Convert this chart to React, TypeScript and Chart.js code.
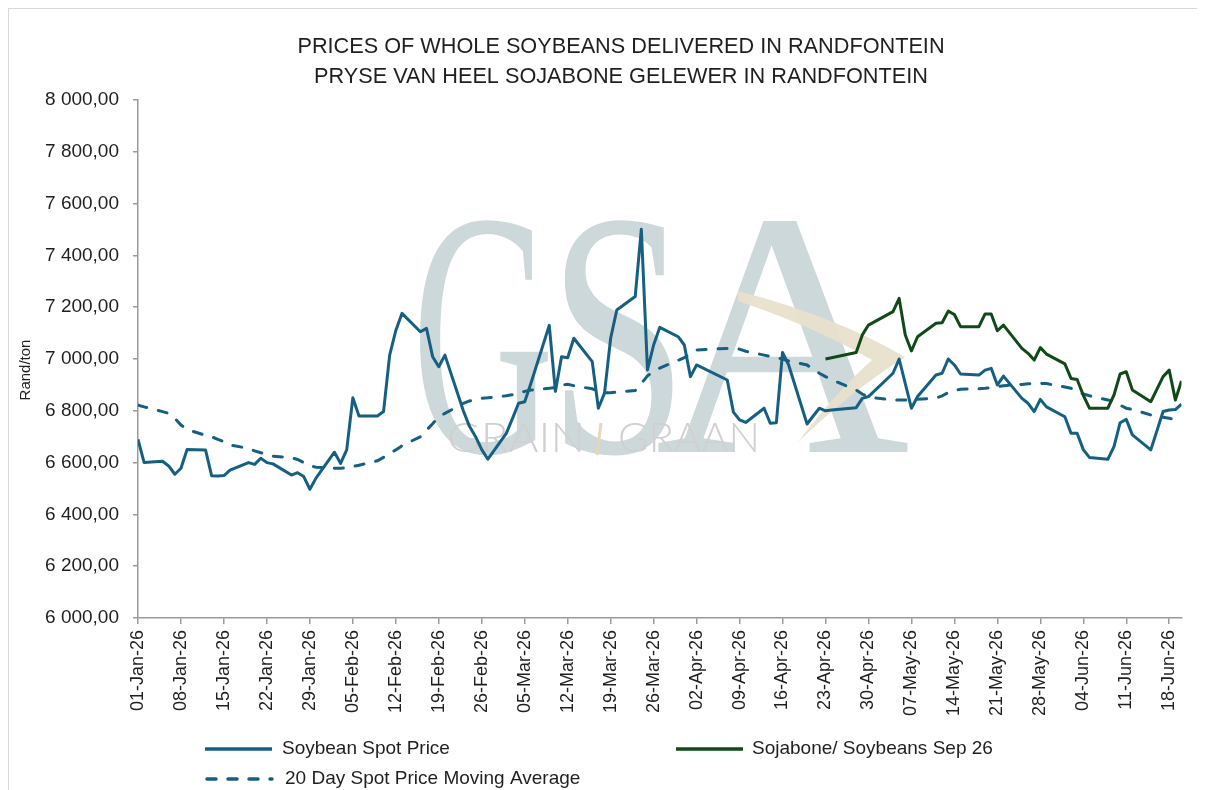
import React, { useEffect, useRef } from "react";
import { Chart, registerables } from "chart.js";

Chart.register(...registerables);

// ---------- DATA ----------
const dates = [
  "2026-01-01","2026-01-02","2026-01-05","2026-01-06","2026-01-07","2026-01-08","2026-01-09","2026-01-12","2026-01-13","2026-01-14","2026-01-15","2026-01-16","2026-01-19","2026-01-20","2026-01-21","2026-01-22","2026-01-23","2026-01-26","2026-01-27","2026-01-28","2026-01-29","2026-01-30",
  "2026-02-02","2026-02-03","2026-02-04","2026-02-05","2026-02-06","2026-02-09","2026-02-10","2026-02-11","2026-02-12","2026-02-13","2026-02-16","2026-02-17","2026-02-18","2026-02-19","2026-02-20","2026-02-23","2026-02-24","2026-02-25","2026-02-26","2026-02-27",
  "2026-03-02","2026-03-03","2026-03-04","2026-03-05","2026-03-06","2026-03-09","2026-03-10","2026-03-11","2026-03-12","2026-03-13","2026-03-16","2026-03-17","2026-03-18","2026-03-19","2026-03-20","2026-03-23","2026-03-24","2026-03-25","2026-03-26","2026-03-27","2026-03-30","2026-03-31",
  "2026-04-01","2026-04-02","2026-04-07","2026-04-08","2026-04-09","2026-04-10","2026-04-13","2026-04-14","2026-04-15","2026-04-16","2026-04-17","2026-04-20","2026-04-21","2026-04-22","2026-04-23","2026-04-24","2026-04-28","2026-04-29","2026-04-30",
  "2026-05-04","2026-05-05","2026-05-06","2026-05-07","2026-05-08","2026-05-11","2026-05-12","2026-05-13","2026-05-14","2026-05-15","2026-05-18","2026-05-19","2026-05-20","2026-05-21","2026-05-22","2026-05-25","2026-05-26","2026-05-27","2026-05-28","2026-05-29",
  "2026-06-01","2026-06-02","2026-06-03","2026-06-04","2026-06-05","2026-06-08","2026-06-09","2026-06-10","2026-06-11","2026-06-12","2026-06-15","2026-06-17","2026-06-18","2026-06-19","2026-06-20",
];

const spotPrice = [
  6690,6600,6605,6587,6555,6578,6651,6649,6549,6548,6550,6571,6600,6593,6617,6600,6595,6552,6561,6546,6497,6540,
  6640,6597,6649,6850,6780,6780,6797,7015,7110,7176,7105,7118,7009,6970,7015,6800,6740,6700,6650,6613,
  6713,6770,6829,6835,6905,7130,6875,7009,7005,7080,6990,6810,6868,7080,7189,7241,7501,6958,7054,7122,7086,7054,
  6932,6977,6919,6795,6765,6755,6810,6752,6754,7025,6977,6749,6780,6810,6800,6803,6812,6848,6855,
  6945,7000,6905,6810,6855,6938,6945,7000,6977,6942,6938,6957,6964,6900,6934,6848,6829,6797,6844,6815,
  6777,6713,6713,6650,6620,6613,6662,6754,6767,6707,6649,6797,6803,6805,6826,
];

const movingAverage = [
  6822,6815,6797,6790,6771,6745,6728,6705,6700,6690,6680,6668,6655,6645,6638,6632,6625,6619,6612,6600,6588,6582,
  6578,6578,6580,6585,6590,6607,6620,6635,6649,6665,6700,6725,6750,6777,6790,6829,6838,6843,6848,6850,
  6858,6862,6868,6875,6880,6887,6890,6900,6902,6897,6885,6875,6870,6870,6872,6878,6905,6935,6951,6965,6995,7005,
  7020,7035,7041,7040,7038,7030,7015,7010,7005,7000,6992,6977,6960,6945,6932,6920,6880,6865,6852,
  6842,6842,6842,6843,6845,6849,6858,6870,6878,6883,6885,6887,6890,6893,6897,6902,6904,6906,6906,6905,
  6892,6887,6878,6865,6858,6842,6835,6822,6810,6805,6784,6775,6771,6765,6758,
];

const sep26Start = "2026-04-23";
const sep26 = [
  7000,7005,7025,7093,7131,
  7183,7234,7093,7031,7086,7138,7140,7185,7172,7125,7125,7174,7174,7109,7131,7041,7022,6996,7044,7019,
  6981,6925,6921,6860,6810,6810,6861,6942,6951,6880,6835,6932,6957,6842,6915,
];

const xTickLabels = [
  "01-Jan-26","08-Jan-26","15-Jan-26","22-Jan-26","29-Jan-26","05-Feb-26","12-Feb-26","19-Feb-26","26-Feb-26",
  "05-Mar-26","12-Mar-26","19-Mar-26","26-Mar-26","02-Apr-26","09-Apr-26","16-Apr-26","23-Apr-26","30-Apr-26",
  "07-May-26","14-May-26","21-May-26","28-May-26","04-Jun-26","11-Jun-26","18-Jun-26",
];

const seriesNames = ["Soybean Spot Price", "20 Day Spot Price Moving Average", "Sojabone/ Soybeans Sep 26"];
const titleLines = ["PRICES OF WHOLE SOYBEANS DELIVERED IN RANDFONTEIN", "PRYSE VAN HEEL SOJABONE GELEWER IN RANDFONTEIN"];
const yAxisTitle = "Rand/ton";

// ---------- HELPERS ----------
const START = Date.UTC(2026, 0, 1);
const MONTHS: Record<string, number> = { Jan: 0, Feb: 1, Mar: 2, Apr: 3, May: 4, Jun: 5, Jul: 6, Aug: 7, Sep: 8, Oct: 9, Nov: 10, Dec: 11 };
function dayIndex(iso: string) {
  const [y, m, d] = iso.split("-").map(Number);
  return (Date.UTC(y, m - 1, d) - START) / 86400000;
}
function labelDay(lbl: string) {
  const [dd, mon, yy] = lbl.split("-");
  return (Date.UTC(2000 + Number(yy), MONTHS[mon], Number(dd)) - START) / 86400000;
}
function fmtY(v: number) {
  const [i, f] = v.toFixed(2).split(".");
  return i.replace(/\B(?=(\d{3})+(?!\d))/g, " ") + "," + f;
}

const SPOT = "#156082";
const GREEN = "#0f4a17";
const TXT = "#1f1f1f";
const AXIS = "#9a9a9a";
const FONT = '"Liberation Sans", Arial, sans-serif';
const OFF = 9; // page -> canvas offset

const decor = {
  id: "decor",
  beforeDatasetsDraw(chart: any) {
    const ctx: CanvasRenderingContext2D = chart.ctx;
    ctx.save();
    ctx.translate(-OFF, -OFF);
    // GSA letters
    ctx.fillStyle = "#cdd8db";
    ctx.textBaseline = "alphabetic";
    ctx.textAlign = "left";
    ctx.font = '350px "Liberation Serif", "DejaVu Serif", serif';
    const letter = (ch: string, x: number, w: number) => {
      const m = ctx.measureText(ch).width;
      ctx.save();
      ctx.translate(x, 452);
      ctx.scale(w / m, 1);
      ctx.fillText(ch, 0, 0);
      ctx.restore();
    };
    letter("A", 655, 255);
    letter("G", 412, 142);
    letter("S", 548, 140);
    // swoosh
    ctx.fillStyle = "rgba(232,224,204,0.95)";
    ctx.beginPath();
    ctx.moveTo(738, 291);
    ctx.quadraticCurveTo(835, 316, 905, 357);
    ctx.quadraticCurveTo(850, 392, 798, 442);
    ctx.quadraticCurveTo(836, 392, 872, 360);
    ctx.quadraticCurveTo(815, 327, 738, 301);
    ctx.closePath();
    ctx.fill();
    // GRAIN / GRAAN
    ctx.fillStyle = "#d0d0d0";
    ctx.font = '300 42px Lato, "Liberation Sans", sans-serif';
    const word = (t: string, x: number, w: number) => {
      const m = ctx.measureText(t).width;
      ctx.save();
      ctx.translate(x, 452);
      ctx.scale(w / m, 1);
      ctx.fillText(t, 0, 0);
      ctx.restore();
    };
    word("GRAIN", 447, 138);
    word("GRAAN", 618, 142);
    ctx.strokeStyle = "#e4d8bb";
    ctx.lineWidth = 3;
    ctx.beginPath();
    ctx.moveTo(601, 423);
    ctx.lineTo(597, 455);
    ctx.stroke();
    ctx.restore();
  },
  afterDraw(chart: any) {
    const ctx: CanvasRenderingContext2D = chart.ctx;
    ctx.save();
    ctx.translate(-OFF, -OFF);
    // title
    ctx.fillStyle = TXT;
    ctx.textAlign = "center";
    ctx.textBaseline = "alphabetic";
    ctx.font = `21.7px ${FONT}`;
    ctx.fillText(titleLines[0], 621, 53);
    ctx.fillText(titleLines[1], 621, 83);
    // y title
    ctx.save();
    ctx.translate(30, 370);
    ctx.rotate(-Math.PI / 2);
    ctx.font = `15px ${FONT}`;
    ctx.textBaseline = "alphabetic";
    ctx.fillText(yAxisTitle, 0, 0);
    ctx.restore();
    // legend
    ctx.textAlign = "left";
    ctx.textBaseline = "middle";
    ctx.font = `19px ${FONT}`;
    const sample = (x1: number, x2: number, y: number, color: string, dash: number[]) => {
      ctx.save();
      ctx.strokeStyle = color;
      ctx.lineWidth = 3.5;
      ctx.lineCap = dash.length ? "round" : "butt";
      ctx.setLineDash(dash);
      ctx.beginPath();
      ctx.moveTo(x1, y);
      ctx.lineTo(x2, y);
      ctx.stroke();
      ctx.restore();
    };
    sample(205, 272, 749, SPOT, []);
    ctx.fillText(seriesNames[0], 282, 749);
    sample(676, 743, 749, GREEN, []);
    ctx.fillText(seriesNames[2], 752, 749);
    sample(207, 272, 779, SPOT, [9, 12]);
    ctx.fillText(seriesNames[1], 285, 779);
    ctx.restore();
  },
};

export default function App() {
  const ref = useRef<HTMLCanvasElement>(null);
  useEffect(() => {
    document.documentElement.style.overflow = "hidden";
    document.body.style.overflow = "hidden";
    const sepOffset = dates.indexOf(sep26Start);
    const spotData = dates.map((d, i) => ({ x: dayIndex(d), y: spotPrice[i] }));
    const maData = dates.map((d, i) => ({ x: dayIndex(d), y: movingAverage[i] }));
    const sepData = sep26.map((v, i) => ({ x: dayIndex(dates[sepOffset + i]), y: v }));
    const tickValues = xTickLabels.map(labelDay);
    const chart = new Chart(ref.current as HTMLCanvasElement, {
      type: "line",
      data: {
        datasets: [
          { label: seriesNames[2], data: sepData, borderColor: GREEN, borderWidth: 3, pointRadius: 0, tension: 0, borderJoinStyle: "round" },
          { label: seriesNames[0], data: spotData, borderColor: SPOT, borderWidth: 3, pointRadius: 0, tension: 0, borderJoinStyle: "round" },
          { label: seriesNames[1], data: maData, borderColor: SPOT, borderWidth: 3, pointRadius: 0, tension: 0, borderDash: [9, 12], borderCapStyle: "round" },
        ],
      } as any,
      options: {
        responsive: false,
        animation: false,
        events: [],
        layout: { autoPadding: false, padding: { top: 91, left: 0, right: 15, bottom: 89 } } as any,
        plugins: { legend: { display: false }, title: { display: false }, tooltip: { enabled: false } },
        font: { family: FONT },
        scales: {
          x: {
            type: "linear",
            min: 0,
            max: dayIndex(dates[dates.length - 1]),
            afterBuildTicks: (scale: any) => {
              scale.ticks = tickValues.map((v) => ({ value: v }));
            },
            afterFit: (scale: any) => {
              scale.height = 100;
            },
            grid: { display: true, drawOnChartArea: false, drawTicks: true, tickLength: 6, color: AXIS, tickColor: AXIS, lineWidth: 1.5 },
            border: { display: true, color: AXIS, width: 1.5 },
            ticks: {
              autoSkip: false,
              minRotation: 90,
              maxRotation: 90,
              padding: 6,
              color: TXT,
              font: { family: FONT, size: 18 },
              callback: (_v: any, i: number) => xTickLabels[i],
            },
          },
          y: {
            type: "linear",
            min: 6000,
            max: 8000,
            afterFit: (scale: any) => {
              scale.width = 129;
            },
            grid: { display: true, drawOnChartArea: false, drawTicks: true, tickLength: 5, color: AXIS, tickColor: AXIS, lineWidth: 1.5 },
            border: { display: true, color: AXIS, width: 1.5 },
            ticks: {
              stepSize: 200,
              padding: 14,
              color: TXT,
              font: { family: FONT, size: 19 },
              callback: (v: any) => fmtY(Number(v)),
            },
          },
        },
      } as any,
      plugins: [decor],
    });
    return () => chart.destroy();
  }, []);
  return (
    <div style={{ width: 1190, height: 800, border: "1px solid #d9d9d9", boxSizing: "border-box", background: "#fff" }}>
      <canvas ref={ref} width={1188} height={798} style={{ display: "block" }} />
    </div>
  );
}
